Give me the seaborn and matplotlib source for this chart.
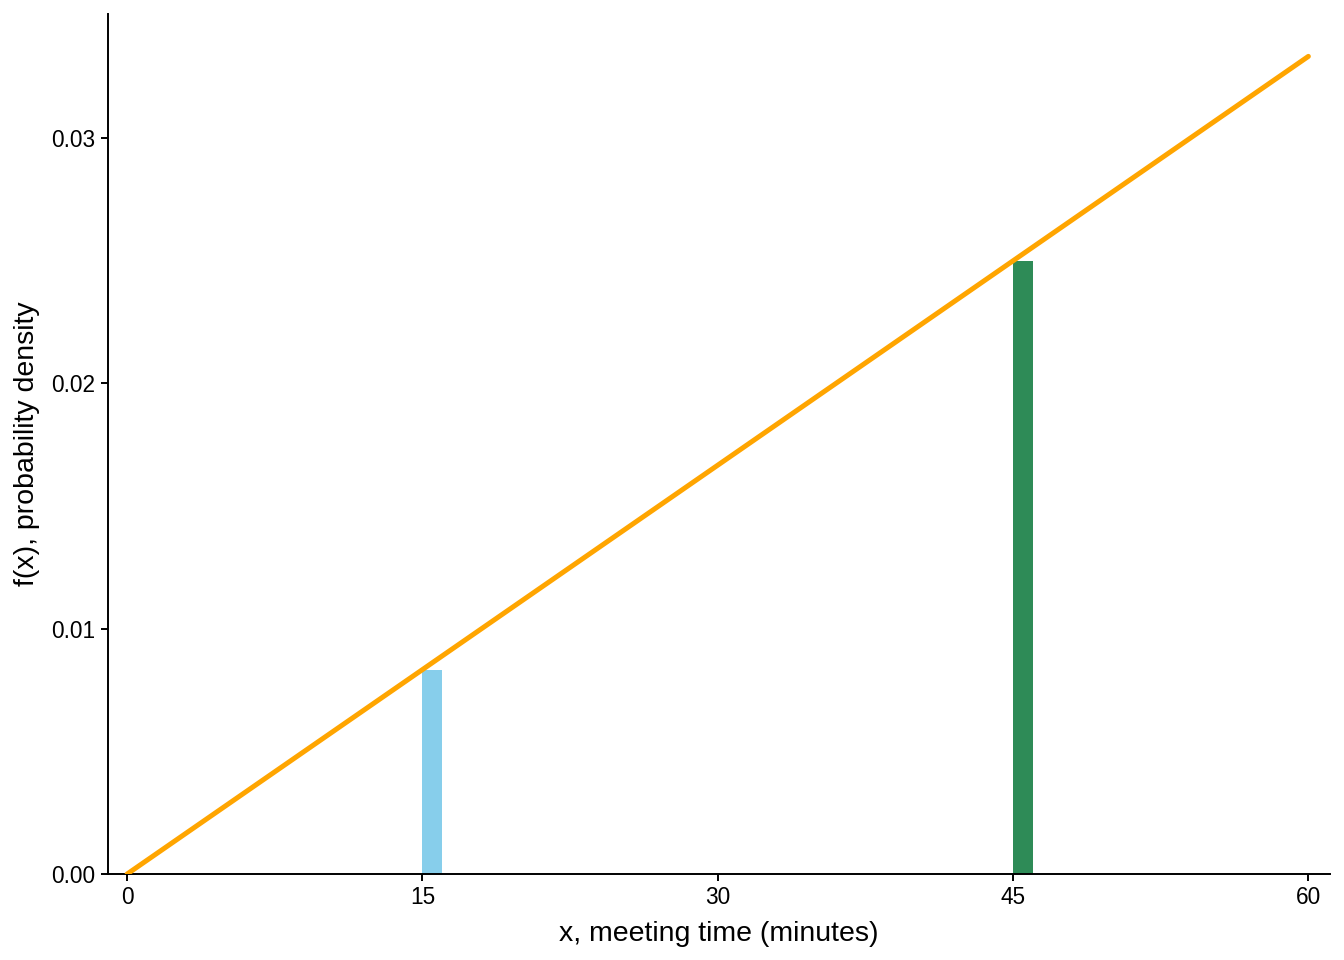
import numpy as np
import pandas as pd
import matplotlib
matplotlib.use("Agg")
import matplotlib.pyplot as plt
import seaborn as sns

# Density f(x) = x/1800 on [0, 60], sampled points
x_vals = [0, 60]
density_vals = [0.0, 0.033333]

# Highlighted bars: left edges and heights
bar_left = [15, 45]
bar_heights = [0.008333, 0.025]
bar_colors = ["#87CEEB", "#2E8B57"]

x_ticks = [0, 15, 30, 45, 60]
y_ticks = [0.00, 0.01, 0.02, 0.03]
y_tick_labels = ["0.00", "0.01", "0.02", "0.03"]

sns.set_theme(style="ticks")
plt.rcParams["font.family"] = ["Liberation Sans", "DejaVu Sans"]

fig = plt.figure(figsize=(13.44, 9.6), dpi=100)
ax = fig.add_axes([0.0804, 0.0896, 0.9092, 0.8958])

ax.bar(bar_left, bar_heights, width=1, align="edge", color=bar_colors, linewidth=0, zorder=2)

df = pd.DataFrame({"x": x_vals, "y": density_vals})
sns.lineplot(data=df, x="x", y="y", ax=ax, color="#FFA500", linewidth=3.6, zorder=3)

ax.set_xlim(-0.97, 61.1)
ax.set_ylim(0, 0.03506)
ax.set_xticks(x_ticks)
ax.set_xticklabels([str(t) for t in x_ticks])
ax.set_yticks(y_ticks)
ax.set_yticklabels(y_tick_labels)

for s in ["top", "right"]:
    ax.spines[s].set_visible(False)
for s in ["left", "bottom"]:
    ax.spines[s].set_linewidth(1.4)
    ax.spines[s].set_color("black")
ax.tick_params(axis="both", length=5, width=1.4, color="black", labelsize=16.3, labelcolor="black", pad=4)

ax.set_xlabel("x, meeting time (minutes)", fontsize=20.5, color="black", labelpad=8)
ax.set_ylabel("f(x), probability density", fontsize=20.5, color="black", labelpad=8)

fig.savefig("out.png", dpi=100)
